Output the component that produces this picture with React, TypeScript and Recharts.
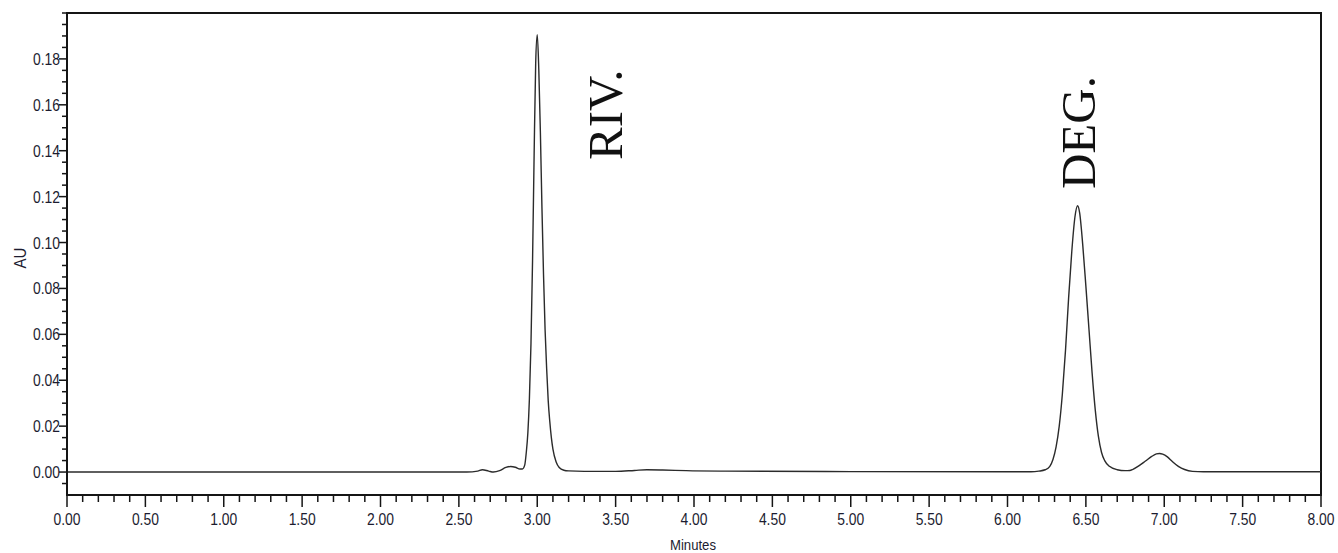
import React from 'react';
import { LineChart, Line, XAxis, YAxis, ReferenceDot, ReferenceArea } from 'recharts';

// Retention time (minutes)
const times = [
  0, 1.0, 2.0, 2.55, 2.62, 2.65, 2.69, 2.72, 2.76, 2.8, 2.83, 2.86, 2.89, 2.905,
  2.92, 2.93, 2.94, 2.95, 2.96, 2.97, 2.98, 2.99, 3.0, 3.01, 3.02, 3.03, 3.04, 3.05,
  3.06, 3.07, 3.08, 3.09, 3.1, 3.12, 3.14, 3.17, 3.2, 3.3, 3.5, 3.62, 3.7, 3.8, 3.95,
  4.2, 5.0, 6.0, 6.15, 6.2, 6.24, 6.27, 6.29, 6.31, 6.33, 6.35, 6.37, 6.39, 6.41,
  6.43, 6.447, 6.46, 6.48, 6.5, 6.52, 6.54, 6.56, 6.58, 6.6, 6.62, 6.65, 6.7, 6.75,
  6.78, 6.8, 6.84, 6.88, 6.92, 6.95, 6.97, 6.99, 7.02, 7.05, 7.09, 7.13, 7.18, 7.25,
  7.6, 8.0,
];

// Absorbance (AU)
const absorbance = [
  0, 0, 0, 0, 0.0004, 0.001, 0.0004, 0.0, 0.0006, 0.002, 0.0024, 0.0021, 0.0013, 0.0013,
  0.003, 0.0085, 0.017, 0.032, 0.056, 0.092, 0.138, 0.178, 0.1905, 0.175, 0.148, 0.115, 0.086, 0.062,
  0.045, 0.031, 0.022, 0.015, 0.01, 0.0045, 0.002, 0.0008, 0.0005, 0.0003, 0.0003, 0.0007, 0.001, 0.0009, 0.0006,
  0.0004, 0.0002, 0.0001, 0.0001, 0.0004, 0.001, 0.0025, 0.0055, 0.011, 0.02, 0.034, 0.053, 0.076, 0.096,
  0.111, 0.116, 0.113, 0.099, 0.081, 0.062, 0.043, 0.027, 0.0155, 0.0085, 0.005, 0.0025, 0.001, 0.0006,
  0.0007, 0.0012, 0.0028, 0.0048, 0.0068, 0.0079, 0.0081, 0.0078, 0.0066, 0.0047, 0.0025, 0.0011, 0.0003, 0.0001,
  0.0001, 0.0001,
];

const xMajorLabels = [
  '0.00', '0.50', '1.00', '1.50', '2.00', '2.50', '3.00', '3.50', '4.00',
  '4.50', '5.00', '5.50', '6.00', '6.50', '7.00', '7.50', '8.00',
];
const yMajorLabels = ['0.00', '0.02', '0.04', '0.06', '0.08', '0.10', '0.12', '0.14', '0.16', '0.18'];

const peakNames = ['RIV.', 'DEG.'];
const peakLabelX = [3.538, 6.558];
const peakLabelY = [0.136, 0.1233];

const X_DOMAIN: [number, number] = [0, 8];
const Y_DOMAIN: [number, number] = [-0.01, 0.2];

const data = times.map((t, i) => ({ t, au: absorbance[i] }));

const xTicks: number[] = [];
for (let i = 0; i <= 80; i++) xTicks.push(Math.round(i * 10) / 100);
const yTicks: number[] = [];
for (let i = -1; i <= 40; i++) yTicks.push(Math.round(i * 5) / 1000);

const AXIS_FONT = "'Liberation Sans Narrow', 'Arial Narrow', 'Liberation Sans', Arial, sans-serif";
const INK = '#151515';

const findLabel = (labels: string[], v: number) =>
  labels.find((l) => Math.abs(parseFloat(l) - v) < 1e-6);

const XTick = (props: any) => {
  const { x, y, payload } = props;
  const label = findLabel(xMajorLabels, payload.value);
  return (
    <g>
      <line x1={x} x2={x} y1={y + 1} y2={y + (label ? 12 : 7)} stroke={INK} strokeWidth={1.5} />
      {label && (
        <text
          x={x}
          y={y + 30}
          textAnchor="middle"
          fontFamily={AXIS_FONT}
          fontSize={16}
          fill="#1c1c30"
          textLength={27}
          lengthAdjust="spacingAndGlyphs"
        >
          {label}
        </text>
      )}
    </g>
  );
};

const YTick = (props: any) => {
  const { x, y, payload } = props;
  const label = findLabel(yMajorLabels, payload.value);
  return (
    <g>
      <line x1={x - (label ? 8 : 5)} x2={x - 1} y1={y} y2={y} stroke={INK} strokeWidth={1.5} />
      {label && (
        <text
          x={x - 7}
          y={y + 6}
          textAnchor="end"
          fontFamily={AXIS_FONT}
          fontSize={16}
          fill="#1c1c30"
          textLength={27}
          lengthAdjust="spacingAndGlyphs"
        >
          {label}
        </text>
      )}
    </g>
  );
};

const PeakLabel = (text: string) => (p: any) => {
  const { cx, cy } = p;
  return (
    <text
      x={cx}
      y={cy}
      transform={`rotate(-90, ${cx}, ${cy})`}
      fontFamily="'Liberation Serif', 'Times New Roman', serif"
      fontSize={49}
      fill="#111"
      textAnchor="start"
    >
      {text}
    </text>
  );
};

export default function App() {
  return (
    <div style={{ position: 'absolute', left: 0, top: 0, width: 1338, height: 553, background: '#fff' }}>
      <LineChart
        width={1338}
        height={553}
        data={data}
        margin={{ top: 13, right: 17, bottom: 0, left: 0 }}
      >
        <XAxis
          dataKey="t"
          type="number"
          domain={X_DOMAIN}
          ticks={xTicks}
          interval={0}
          tick={<XTick />}
          tickLine={false}
          tickSize={0}
          tickMargin={0}
          height={58}
          axisLine={{ stroke: INK, strokeWidth: 2 }}
          allowDataOverflow
        />
        <YAxis
          type="number"
          domain={Y_DOMAIN}
          ticks={yTicks}
          interval={0}
          tick={<YTick />}
          tickLine={false}
          tickSize={0}
          tickMargin={0}
          width={67}
          axisLine={{ stroke: INK, strokeWidth: 2 }}
          allowDataOverflow
        />
        <ReferenceArea
          x1={X_DOMAIN[0]}
          x2={X_DOMAIN[1]}
          y1={Y_DOMAIN[0]}
          y2={Y_DOMAIN[1]}
          fill="none"
          fillOpacity={0}
          stroke={INK}
          strokeWidth={2}
          strokeOpacity={1}
          ifOverflow="visible"
        />
        <Line
          dataKey="au"
          type="monotone"
          stroke="#2b2b2b"
          strokeWidth={1.4}
          dot={false}
          isAnimationActive={false}
        />
        {peakNames.map((name, i) => (
          <ReferenceDot
            key={name}
            x={peakLabelX[i]}
            y={peakLabelY[i]}
            r={0}
            ifOverflow="visible"
            shape={PeakLabel(name)}
          />
        ))}
      </LineChart>
      <svg
        width={1338}
        height={553}
        style={{ position: 'absolute', left: 0, top: 0, pointerEvents: 'none' }}
      >
        <text
          transform="translate(26,258) rotate(-90)"
          textAnchor="middle"
          fontFamily={AXIS_FONT}
          fontSize={16}
          fill="#1c1c30"
          textLength={21}
          lengthAdjust="spacingAndGlyphs"
        >
          AU
        </text>
        <text
          x={693}
          y={550}
          textAnchor="middle"
          fontFamily={AXIS_FONT}
          fontSize={14}
          fill="#1c1c30"
          textLength={46}
          lengthAdjust="spacingAndGlyphs"
        >
          Minutes
        </text>
      </svg>
    </div>
  );
}
